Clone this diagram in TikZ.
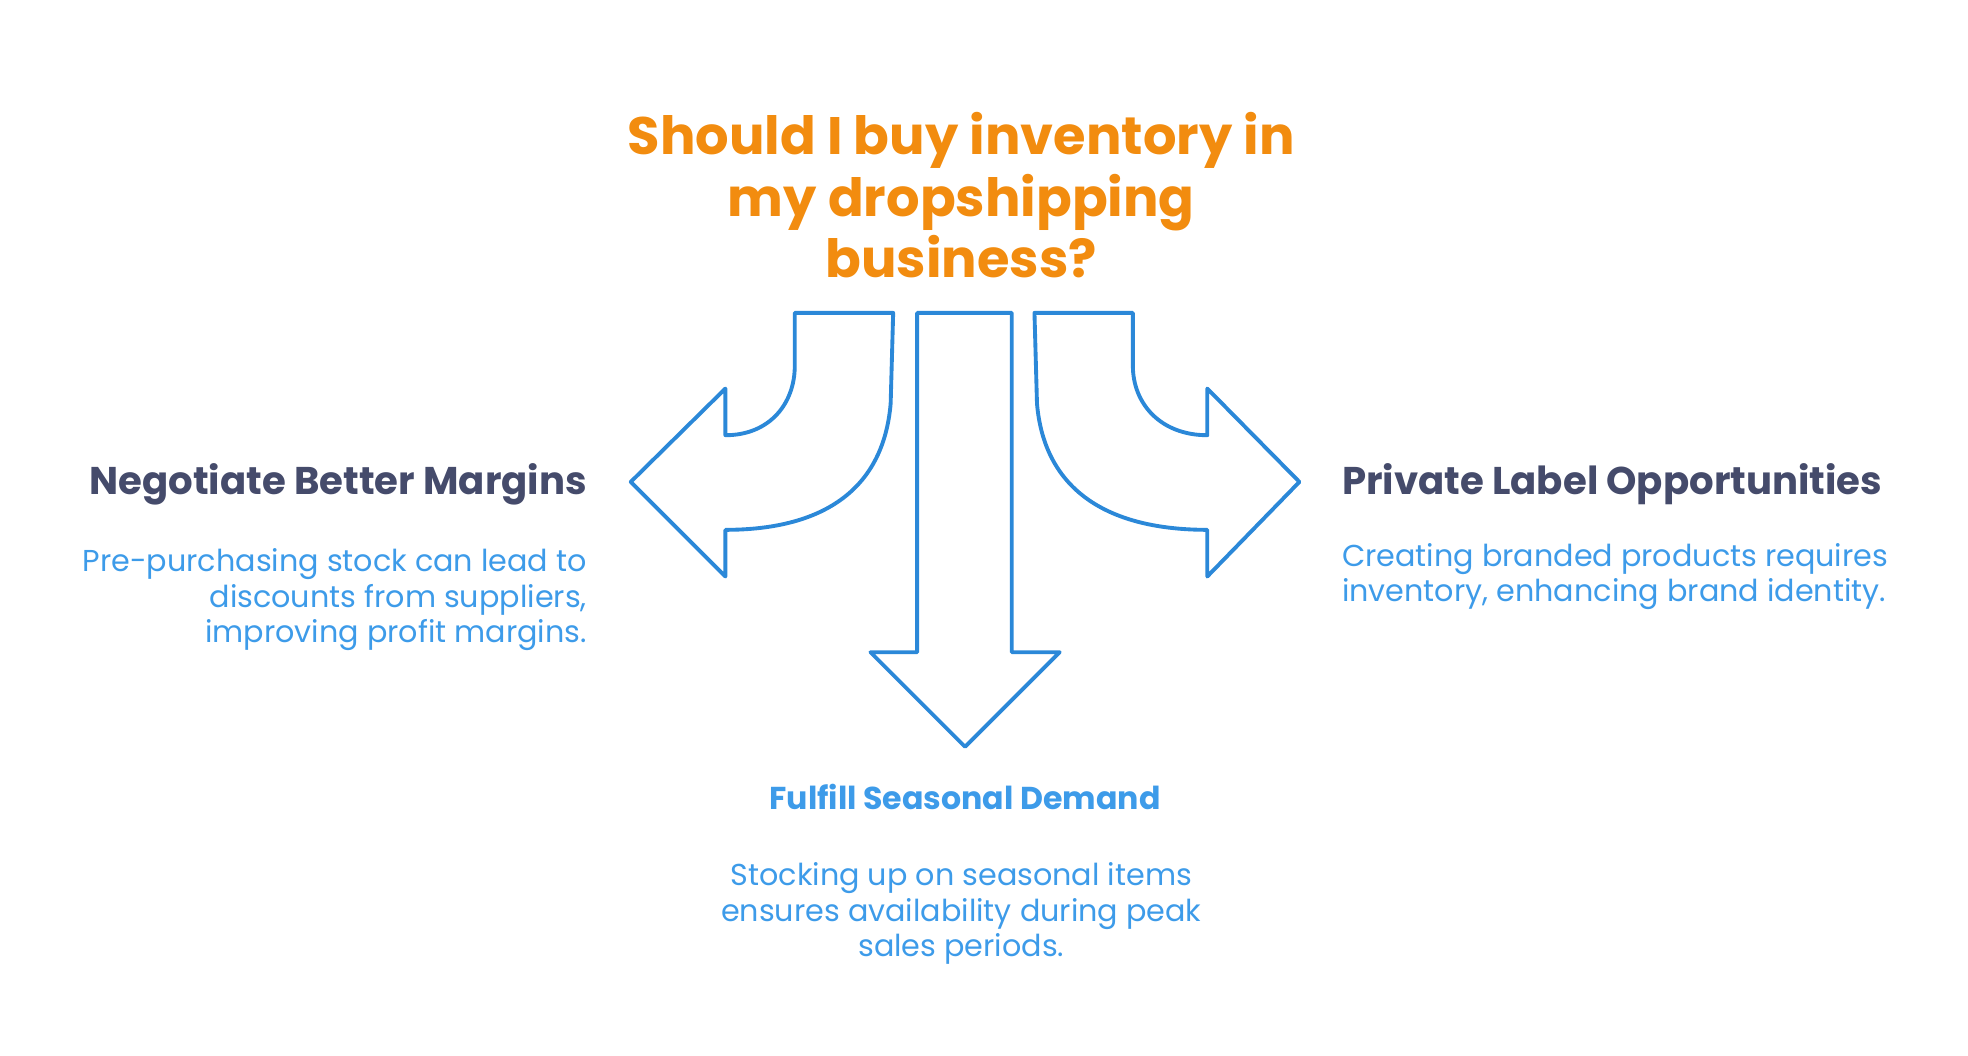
\documentclass[tikz,border=0pt]{standalone}
\usepackage{fontspec}
\setmainfont{Poppins}
\usetikzlibrary{positioning}
\definecolor{titleorange}{HTML}{F28C0F}
\definecolor{headdark}{HTML}{454B6B}
\definecolor{bodyblue}{HTML}{3D9BE9}
\definecolor{arrowblue}{HTML}{2B88D8}
\begin{document}
\begin{tikzpicture}[x=0.012615cm, y=-0.012615cm]
    \tikzset{
        % arrow outlines
        bigarrow/.style={draw=arrowblue, line width=1.1pt, line join=round, fill=white},
        % texts
        titletext/.style={font=\fontsize{15}{17.5}\selectfont\bfseries, text=titleorange, align=center},
        headtext/.style={font=\fontsize{11}{13}\selectfont\bfseries, text=headdark},
        bodytext/.style={font=\fontsize{8.6}{10.1}\selectfont, text=bodyblue}
    }
    \useasboundingbox (0,0) rectangle (1560,837);

    % ================= title =================
    \node[titletext] (title) at (762,155) {Should I buy inventory in\\my dropshipping\\business?};

    % ================= arrows =================
    % left
    \draw[bigarrow] (630,248) -- (708,248) -- (706,320)
        .. controls (700,390) and (650,420) .. (575,420)
        -- (575,457) -- (500,382) -- (575,308) -- (575,345)
        .. controls (610,345) and (630,320) .. (630,290) -- cycle;
    % middle
    \draw[bigarrow] (727,248) -- (802,248) -- (802,517) -- (840,517)
        -- (765,592) -- (690,517) -- (727,517) -- cycle;
    % right
    \draw[bigarrow] (898,248) -- (820,248) -- (822,320)
        .. controls (828,390) and (880,420) .. (957,420)
        -- (957,457) -- (1030,382) -- (957,308) -- (957,345)
        .. controls (920,345) and (898,320) .. (898,290) -- cycle;

    % ================= left branch =================
    \node[headtext, anchor=east] (lefthead) at (475,384) {Negotiate Better Margins};
    \node[bodytext, align=right, anchor=north east] (leftbody) at (475,425)
        {Pre-purchasing stock can lead to\\discounts from suppliers,\\improving profit margins.};

    % ================= middle branch =================
    \node[font=\fontsize{9}{11}\selectfont\bfseries, text=bodyblue] (midhead) at (765,632) {Fulfill Seasonal Demand};
    \node[bodytext, align=center, anchor=north] (midbody) at (762,674)
        {Stocking up on seasonal items\\ensures availability during peak\\sales periods.};

    % ================= right branch =================
    \node[headtext, anchor=west] (righthead) at (1054,384) {Private Label Opportunities};
    \node[bodytext, align=left, anchor=north west] (rightbody) at (1054,421)
        {Creating branded products requires\\inventory, enhancing brand identity.};
\end{tikzpicture}
\end{document}
